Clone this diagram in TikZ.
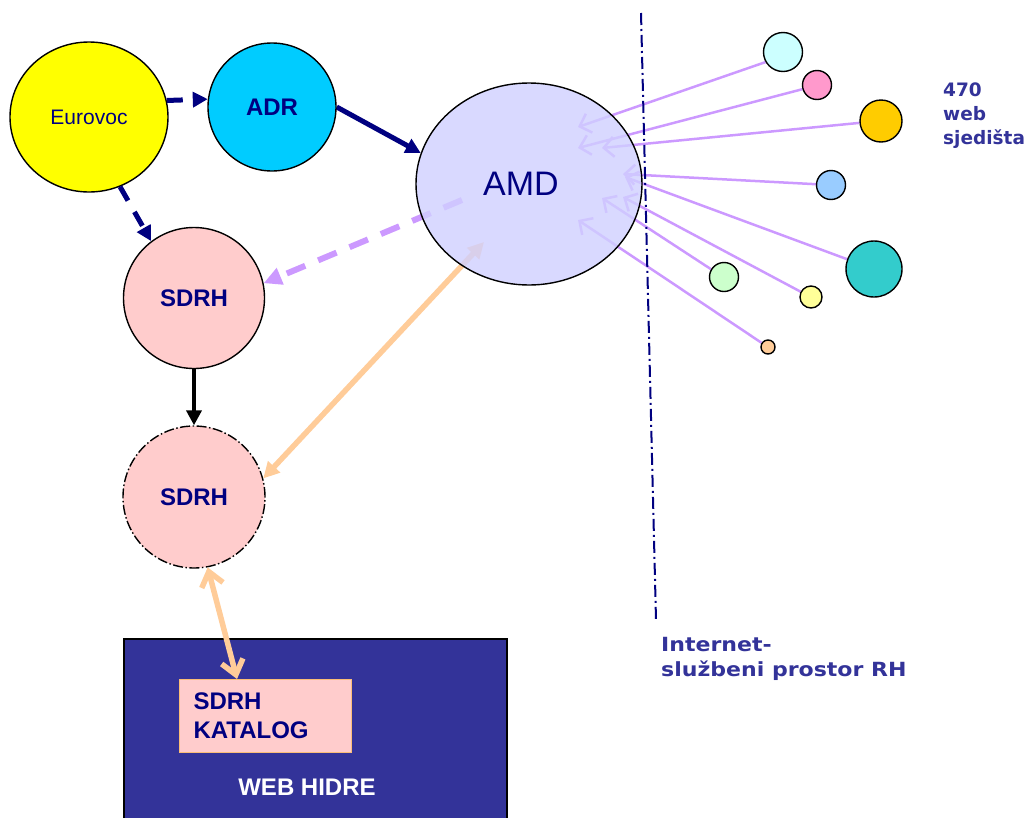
\documentclass[tikz,border=0pt]{standalone}
\usepackage{fontspec}
\setmainfont{Liberation Sans}
\newfontfamily\verdfont{DejaVu Sans}
\newfontfamily\verdwide{DejaVu Sans}[FakeStretch=1.13]
\usetikzlibrary{arrows.meta, positioning, shapes.geometric, backgrounds}

\definecolor{navy}{RGB}{0,0,128}
\definecolor{webblue}{RGB}{51,51,153}
\definecolor{lilac}{RGB}{204,153,255}
\definecolor{peach}{RGB}{255,204,153}
\definecolor{rosy}{RGB}{255,204,204}
\definecolor{amdfill}{RGB}{208,208,255}
\definecolor{sunyellow}{RGB}{255,255,0}
\definecolor{skycyan}{RGB}{0,204,255}
\definecolor{paleaqua}{RGB}{204,255,255}
\definecolor{candy}{RGB}{255,153,204}
\definecolor{gold}{RGB}{255,204,0}
\definecolor{skyblue}{RGB}{153,204,255}
\definecolor{teal}{RGB}{51,204,204}
\definecolor{mint}{RGB}{204,255,204}
\definecolor{lemon}{RGB}{255,255,153}
\definecolor{katline}{RGB}{250,190,120}

\begin{document}
\begin{tikzpicture}[x=1pt, y=-1pt,
    % Node styles
    blob/.style={circle, draw, line width=1.4pt, inner sep=0pt, text=navy,
        font=\fontsize{24}{28}\selectfont\bfseries},
    site/.style={circle, draw, line width=1.4pt, inner sep=0pt},
    note/.style={anchor=north west, inner sep=0pt, align=left, text=webblue,
        font=\verdfont\bfseries\fontsize{18.5}{24}\selectfont},
    % Edge styles
    navy arrow/.style={draw=navy, line width=5pt, -{Triangle[length=15pt,width=15pt]}},
    navy dash/.style={navy arrow, dash pattern=on 16pt off 13pt},
    feed/.style={draw=lilac, line width=2.5pt, -{Straight Barb[length=10pt,width=20pt]}},
    peach arrow/.style={draw=peach, line width=5.5pt},
  ]
  \useasboundingbox (0,0) rectangle (1027,817);

  % --- main nodes ---
  \node[ellipse, draw, line width=1.4pt, fill=sunyellow, minimum width=158pt, minimum height=150pt,
        text=navy, font=\fontsize{21}{25}\selectfont] (eurovoc) at (89,117) {Eurovoc};
  \node[blob, fill=skycyan, minimum size=128pt] (adr) at (272,107) {ADR};
  \node[ellipse, draw, line width=1.4pt, fill=amdfill, fill opacity=0.8, text opacity=1,
        minimum width=226pt, minimum height=202pt, text=navy,
        font=\fontsize{34}{40}\selectfont] (amd) at (529,184) {\hspace*{-16pt}AMD};
  \node[blob, fill=rosy, minimum size=141pt] (sdrh) at (194,298) {SDRH};
  \node[blob, fill=rosy, minimum size=142pt,
        dash pattern=on 10pt off 2.5pt on 1.5pt off 2.5pt] (sdrhweb) at (194,497) {SDRH};

  % --- web sites ---
  \foreach \i/\x/\y/\d/\c in {1/783/52/39/paleaqua, 2/817/85/29/candy, 3/881/121/42/gold,
      4/831/185/29/skyblue, 5/874/269/56/teal, 6/724/277/29/mint, 7/811/297/22/lemon,
      8/768/347/14/peach}
    \node[site, fill=\c, minimum size=\d pt] (s\i) at (\x,\y) {};

  % arrow heads inside AMD
  \foreach \i/\x/\y in {1/578/127, 2/578/148, 3/602/148, 4/623/174, 5/625/177,
      6/602/198, 7/623/197, 8/578/220}
    \coordinate (h\i) at (\x,\y);
  \coordinate (amdout) at (462,200);
  \coordinate (amdin) at (484,242);

  \begin{scope}[on background layer]
    \foreach \i/\a in {1/210, 2/196, 3/185, 4/177, 5/160, 6/149, 7/153, 8/147}
      \draw[feed] (s\i.\a) -- (h\i);
    \draw[navy arrow] (adr.east) -- (amd.164);
    \draw[draw=lilac, line width=6pt, dash pattern=on 20pt off 14pt,
          -{Triangle[length=18pt,width=17pt]}] (amdout) -- (sdrh.12);
    \draw[peach arrow, {Triangle[length=16pt,width=16pt]}-{Triangle[length=16pt,width=16pt]}]
          (amdin) -- (sdrhweb.15);
  \end{scope}

  \draw[navy dash] (eurovoc.12) -- (adr.173);
  \draw[navy dash] (eurovoc.-66) -- (sdrh.127);
  \draw[draw=black, line width=4pt, -{Triangle[length=15pt,width=15pt]}] (sdrh.south) -- (sdrhweb.north);

  % --- border of the official space ---
  \coordinate (linetop) at (641,13);
  \coordinate (linebot) at (656,620);
  \draw[navy, line width=2pt, dash pattern=on 12pt off 4pt on 2pt off 4pt] (linetop) -- (linebot);

  % --- WEB HIDRE box ---
  \node[draw, line width=1.5pt, fill=webblue, anchor=north west,
        minimum width=383pt, minimum height=200pt] (web) at (123,638) {};
  \node[text=white, font=\fontsize{24}{28}\selectfont\bfseries] (webname) at (307,787) {WEB HIDRE};
  \node[draw=katline, line width=1pt, fill=rosy, anchor=north west, align=left,
        text width=144pt, inner xsep=14pt, minimum width=172pt, minimum height=73pt,
        text=navy, font=\fontsize{24}{29}\selectfont\bfseries] (kat) at (179,679) {SDRH\\KATALOG};
  \coordinate (katin) at ([xshift=58pt]kat.north west);
  \draw[peach arrow, line cap=round,
        {Straight Barb[length=14pt,width=22pt]}-{Straight Barb[length=14pt,width=22pt]}]
        (sdrhweb.-79) -- (katin);

  % --- labels ---
  \node[note] (count) at (943,83) {470\\web\\sjedišta};
  \node[note, font=\verdwide\bfseries\fontsize{19.5}{25}\selectfont] (inet) at (661,637)
        {Internet-\\službeni prostor RH};
\end{tikzpicture}
\end{document}
